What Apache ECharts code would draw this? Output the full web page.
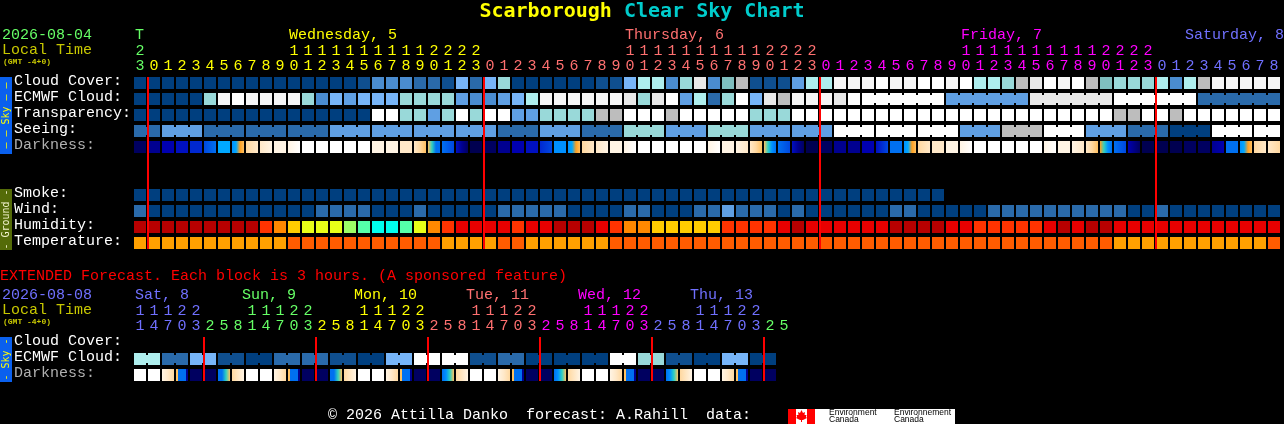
<!DOCTYPE html>
<html>
<head>
<meta charset="utf-8">
<style>html,body{margin:0;padding:0;background:#000}#c{width:1284px;height:424px}</style>
<script src="https://cdn.jsdelivr.net/npm/echarts@6/dist/echarts.min.js"></script>
</head>
<body>
<div id="c"></div>
<script>
// ---------- data ----------
const mainRows = ['Cloud Cover:','ECMWF Cloud:','Transparency:','Seeing:','Darkness:','','','Smoke:','Wind:','Humidity:','Temperature:'];
const extRows = ['Cloud Cover:','ECMWF Cloud:','Darkness:'];
const mainHours = [23,0,1,2,3,4,5,6,7,8,9,10,11,12,13,14,15,16,17,18,19,20,21,22,23,0,1,2,3,4,5,6,7,8,9,10,11,12,13,14,15,16,17,18,19,20,21,22,23,0,1,2,3,4,5,6,7,8,9,10,11,12,13,14,15,16,17,18,19,20,21,22,23,0,1,2,3,4,5,6,7,8];
const extHours = [11,14,17,20,23,2,5,8,11,14,17,20,23,2,5,8,11,14,17,20,23,2,5,8,11,14,17,20,23,2,5,8,11,14,17,20,23,2,5,8,11,14,17,20,23,2,5];
const mainDayStarts = [0,1,25,49,73];
const extDayStarts = [0,5,13,21,29,37,45];
const midnightCols = [1,25,49,73];
const extMidnightCols = [5,13,21,29,37,45];
const mainDayNames = [[0,'T'],[11,'Wednesday, 5'],[35,'Thursday, 6'],[59,'Friday, 7'],[75,'Saturday, 8']];
const extDayNames = [[0,'Sat, 8'],[8,'Sun, 9'],[16,'Mon, 10'],[24,'Tue, 11'],[32,'Wed, 12'],[40,'Thu, 13']];

const cloudCover = [0,0,0,0,0,0,0,0,0,0,0,0,0,0,0,0,1,3,3,3,2,2,1,5,2,5,7,0,0,0,0,0,0,1,1,5,8,8,3,7,10,3,6,9,1,1,1,4,8,8,12,12,12,11,12,12,11,11,12,11,8,8,7,9,10,11,12,11,9,6,7,7,7,8,3,8,9,12,12,12,12,12];
const ecmwfCloud = [0,0,0,0,0,7,12,11,12,12,12,12,7,3,5,4,5,5,5,7,7,7,7,4,3,3,4,5,8,12,12,12,12,12,12,10,7,10,11,4,8,2,7,11,5,10,9,12,12,12,10,11,11,11,11,11,11,11,4,4,4,4,4,4,10,10,10,10,10,10,11,11,11,11,11,11,2,2,2,2,2,2];
const ecmwfRuns = [1,1,1,1,1,1,1,1,1,1,1,1,1,1,1,1,1,1,1,1,1,1,1,1,1,1,1,1,1,1,1,1,1,1,1,1,1,1,1,1,1,1,1,1,1,1,1,1,1,1,1,1,6,6,6,6,6];
const transparency = [0,0,0,0,0,0,0,0,0,0,0,0,0,0,0,0,0,11,11,7,7,4,7,11,7,11,11,4,4,7,7,7,7,9,9,11,11,11,9,11,11,11,11,11,7,7,7,11,11,11,11,11,11,11,11,11,11,11,11,11,11,11,11,11,11,11,11,11,11,11,9,9,11,11,9,11,11,11,11,11,11,11];
const seeingBlocks = [2,4,2,2,2,4,4,4,4,2,4,2,7,4,7,4,4,11,11,11,4,9,11,4,2,0,11,11];
const seeingRuns = [2,3,3,3,3,3,3,3,3,3,3,3,3,3,3,3,3,3,3,3,3,3,3,3,3,3,3,2];
const darkness = [[1],[2],[3],[4],[5],[6,7],[9],[8,9,11,12],[13,14],[14,15],[15],[15,16],[16],[16],[16],[16],[16],[15],[15],[14],[14,13,12],[12,10,7,7],[7,6],[4,2,1],[0],[1],[2],[3],[4],[5,6],[8],[8,9,11,12],[13,14],[14,15],[15],[15,16],[16],[16],[16],[16],[16],[15,16],[15],[15,14],[14,13,12],[12,10,8,7],[7,6],[4,2,1],[0],[1],[2],[2],[3],[4,6],[7],[8,9,11,12],[13,14],[14],[15],[15,16],[16],[16],[16],[16],[16],[15,16],[15],[15,14],[14,13,12],[11,10,8,7],[7,6],[3,1],[0],[0],[0],[1],[1],[2,3],[7],[8,9,11,12],[13,14],[14,13]];
const smoke = [0,0,0,0,0,0,0,0,0,0,0,0,0,0,0,0,0,0,0,0,0,0,0,0,0,0,0,0,0,0,0,0,0,0,0,0,0,0,0,0,0,0,0,0,0,0,0,0,0,0,0,0,0,0,0,0,0,0];
const wind = [2,0,0,0,0,0,0,0,0,0,0,0,0,2,2,2,2,0,0,0,2,0,0,0,0,0,2,2,2,2,2,0,0,0,0,2,2,0,0,0,2,2,4,2,2,2,0,2,0,0,0,0,0,0,2,2,0,0,0,0,0,2,2,2,2,2,2,2,2,2,2,0,0,2,0,0,0,0,0,0,0,0];
const humidity = [0,0,0,0,0,0,0,0,0,2,3,4,5,5,5,6,7,8,8,7,5,3,2,1,1,1,1,2,1,1,0,0,0,1,2,3,3,4,4,4,4,4,2,2,2,2,1,0,1,1,1,1,1,1,0,0,0,0,1,1,2,2,2,2,2,1,0,1,0,0,1,1,1,1,1,1,1,1,1,1,1,1];
const temperature = [1,1,1,1,1,1,1,1,1,1,1,0,0,0,0,0,0,0,0,0,0,0,1,1,1,1,0,0,1,1,1,1,1,1,0,0,0,0,0,0,0,0,0,0,0,0,0,0,0,0,0,0,0,0,0,0,0,0,0,0,0,0,0,0,0,0,0,0,0,0,1,1,1,1,1,1,1,1,1,1,1,0];
const extEcmwf = [8,8,2,2,5,5,1,1,0,0,2,2,2,2,1,1,0,0,5,5,11,11,11,11,1,1,2,2,0,0,0,0,0,0,11,11,7,7,1,1,0,0,5,5,0,0];
const extRuns = [2,2,2,2,2,2,2,2,2,2,2,2,2,2,2,2,2,2,2,2,2,2,2];
const extDarkness = [[16],[16],[15,14,13],[12,7,7,2],[1],[1],[7,7,10,12],[13,15],[16],[16],[15,14,13],[12,7,7,2],[1],[1],[7,7,10,12],[13,15],[16],[16],[15,14,13],[12,7,7,2],[1],[1],[7,8,10,12],[13,15],[16],[16],[15,14,13],[12,7,7,2],[1],[1],[7,8,10,12],[13,15],[16],[16],[15,14,13],[12,7,7,2],[1],[1],[7,8,10,12],[13,15],[16],[16],[15,14,13],[12,7,7,2],[1],[1]];

// ---------- styles ----------
const mono = "'Liberation Mono', monospace";
const dejavu = "'DejaVu Sans Mono', monospace";
const skyPalette = ['#003f7f','#0f4f8f','#2a6aaa','#4a8cd0','#5f9fe3','#77b5f8','#7fbfbf','#99d9d9','#aeeeee','#bdbdbd','#e8e8e8','#ffffff','#f6f6f6'];
const darkPalette = ['#000050','#000060','#000090','#0000b0','#0010c0','#0028d0','#0048e0','#0070f0','#0090ff','#00a8ff','#30d0c0','#ffa020','#ffc060','#ffd8a0','#ffe8c8','#fff4e4','#ffffff'];
const humidPalette = ['#b80000','#e80000','#ff3300','#ff8800','#ffcc00','#e8ff18','#9cff66','#55ffaa','#00ffee'];
const tempPalette = ['#ff5c00','#ffa000'];
const mainDayColors = ['#66ff66','#ffff00','#ff7070','#ff00ff','#7070ff'];
const extDayColors = ['#7070ff','#66ff66','#ffff00','#ff7070','#ff00ff','#7070ff','#66ff66'];
const mainNameColors = ['#66ff66','#ffff00','#ff7070','#ff00ff','#7070ff'];
const extNameColors = ['#7070ff','#66ff66','#ffff00','#ff7070','#ff00ff','#7070ff'];

function dayIndex(starts, col){ let d=0; starts.forEach((s,i)=>{ if(col>=s) d=i; }); return d; }

function hourAxis(grid, hours, starts, colors, pick, margin){
  return {
    type:'category', gridIndex:grid, position:'top', boundaryGap:true,
    data: hours.map((h,i)=>({value:pick(h), textStyle:{color:colors[dayIndex(starts,i)]}})),
    axisLine:{show:false}, axisTick:{show:false}, splitLine:{show:false},
    axisLabel:{show:true, interval:0, margin:margin, fontFamily:mono, fontSize:15, lineHeight:15, align:'center', hideOverlap:false}
  };
}
const units = h => String(h%10);
const tens = h => h>=10 ? String(Math.floor(h/10)) : '';

function rowAxis(grid, rows){
  return {
    type:'category', gridIndex:grid, inverse:true,
    data: rows.map(r=>({value:r, textStyle:{color:r==='Darkness:'?'#b0b0b0':'#ffffff', align:'left', verticalAlign:'bottom', lineHeight:4}})),
    axisLine:{show:false}, axisTick:{show:false}, splitLine:{show:false},
    axisLabel:{show:true, interval:0, align:'left', verticalAlign:'bottom', margin:119, fontFamily:mono, fontSize:15, lineHeight:4}
  };
}

function joined(runs){
  const out=[]; runs.forEach(n=>{ for(let k=0;k<n;k++) out.push(k<n-1?1:0); }); return out;
}
function expand(blocks, runs){
  const out=[]; runs.forEach((n,b)=>{ for(let k=0;k<n;k++) out.push(blocks[b]); }); return out;
}
// stops for one darkness cell: neighbouring levels far apart change abruptly
function darkStops(lv){
  const stops=[], n=lv.length-1;
  lv.forEach((l,k)=>{
    stops.push({offset:k/n,color:darkPalette[l]});
    if(k<n && Math.abs(lv[k+1]-l)>3){
      const mid=(k+0.5)/n;
      stops.push({offset:mid,color:darkPalette[l]},{offset:mid,color:darkPalette[lv[k+1]]});
    }
  });
  return stops;
}

function cells(axis, row, values, palette, runs){
  const link = runs ? joined(runs) : [];
  return {
    type:'custom', xAxisIndex:axis, yAxisIndex:axis===0?0:1, z:2, silent:true,
    encode:{x:0,y:1},
    data: values.map((v,i)=>[i,row,v,link[i]||0]),
    renderItem(params, api){
      const c=api.coord([api.value(0),api.value(1)]), s=api.size([1,1]);
      const x=c[0]-s[0]/2+1, y=c[1]-s[1]/2+2, w=s[0]-2, h=s[1]-4, fill=palette[api.value(2)];
      const kids=[{type:'rect',shape:{x,y,width:w,height:h},style:{fill}}];
      if(api.value(3)) kids.push({type:'rect',shape:{x:x+w,y:y+2,width:2,height:h-4},style:{fill}});
      return {type:'group',children:kids};
    }
  };
}
function darkCells(axis, row, values){
  return {
    type:'custom', xAxisIndex:axis, yAxisIndex:axis===0?0:1, z:2, silent:true,
    encode:{x:0,y:1},
    data: values.map((v,i)=>[i,row]),
    renderItem(params, api){
      const idx=api.value(0), c=api.coord([idx,api.value(1)]), s=api.size([1,1]);
      const lv=values[idx];
      const fill = lv.length===1 ? darkPalette[lv[0]] : new echarts.graphic.LinearGradient(0,0,1,0,darkStops(lv));
      return {type:'rect',shape:{x:c[0]-s[0]/2+1,y:c[1]-s[1]/2+2,width:s[0]-2,height:s[1]-4},style:{fill}};
    }
  };
}
function redLines(axis, cols, lastRow){
  return {
    type:'custom', xAxisIndex:axis, yAxisIndex:axis===0?0:1, z:10, silent:true,
    encode:{x:0},
    data: cols.map(c=>[c,0]),
    renderItem(params, api){
      const top=api.coord([api.value(0),0]), bot=api.coord([api.value(0),lastRow]);
      return {type:'rect',z2:100,shape:{x:Math.round(top[0])-7,y:top[1]-6,width:2,height:bot[1]-top[1]+12},style:{fill:'#ff0000'}};
    }
  };
}
function dayNames(axis, names, colors, shift){
  return {
    type:'custom', xAxisIndex:axis, yAxisIndex:axis===0?0:1, z:3, silent:true,
    encode:{x:0},
    data: names.map(n=>[n[0],0]),
    renderItem(params, api){
      const i=params.dataIndex, c=api.coord([api.value(0),0]);
      const leftEdge=api.coord([0,0])[0]-5;
      return {type:'text',x:Math.max(leftEdge,c[0]-shift),y:c[1]-48,
        style:{text:names[i][1],fill:colors[i],font:'15px '+mono,textAlign:'left',textVerticalAlign:'middle'}};
    }
  };
}

function label(x,y,text,fill,font){
  return {type:'text',x,y,silent:true,style:{text,fill,font:font||('15px '+mono),textAlign:'left',textVerticalAlign:'middle'}};
}
function sideBar(y,h,fill,text,color){
  return [
    {type:'rect',silent:true,shape:{x:0,y,width:12,height:h},style:{fill}},
    {type:'text',silent:true,x:6,y:y+h/2,rotation:Math.PI/2,style:{text,fill:color,font:'10px '+dejavu,textAlign:'center',textVerticalAlign:'middle'}}
  ];
}

const graphics = [].concat(
  sideBar(77,77,'#0a60ee','— — Sky — —','#ffff00'),
  sideBar(189,61,'#546b08','- Ground -','#f4f4d0'),
  sideBar(337,45,'#0a60ee','- Sky -','#ffff00'),
  [
    label(2,35,'2026-08-04','#66ff66'),
    label(2,50,'Local Time','#c8c800'),
    label(3,62,'(GMT -4+0)','#c8c800','bold 8px '+mono),
    label(0,276,'EXTENDED Forecast. Each block is 3 hours. (A sponsored feature)','#ff0000'),
    label(2,295,'2026-08-08','#7070ff'),
    label(2,310,'Local Time','#c8c800'),
    label(3,322,'(GMT -4+0)','#c8c800','bold 8px '+mono),
    label(328,415,'© 2026 Attilla Danko  forecast: A.Rahill  data:','#ffffff'),
    {type:'rect',silent:true,shape:{x:788,y:409,width:167,height:15},style:{fill:'#ffffff'}},
    {type:'rect',silent:true,shape:{x:788,y:409,width:8,height:15},style:{fill:'#ff0000'}},
    {type:'rect',silent:true,shape:{x:807,y:409,width:8,height:15},style:{fill:'#ff0000'}},
    {type:'polygon',silent:true,shape:{points:[[801.5,410],[803,413],[805,412],[804.5,415],[806.5,415],[806,417],[807,418],[803,420],[802,420],[802,422],[801,422],[801,420],[800,420],[796,418],[797,417],[796.5,415],[798.5,415],[798,412],[800,413]]},style:{fill:'#ff0000'}},
    label(829,412.5,'Environment','#000000','8.5px "Liberation Sans"'),
    label(829,420,'Canada','#000000','8.5px "Liberation Sans"'),
    label(894,412.5,'Environnement','#000000','8.5px "Liberation Sans"'),
    label(894,420,'Canada','#000000','8.5px "Liberation Sans"')
  ]
);

const option = {
  animation:false,
  backgroundColor:'#000000',
  title:{
    text:'{a|Scarborough }{b|Clear Sky Chart}', left:'center', top:0, padding:0,
    textStyle:{rich:{
      a:{fontFamily:dejavu,fontWeight:'bold',fontSize:20,lineHeight:24,color:'#ffff00'},
      b:{fontFamily:dejavu,fontWeight:'bold',fontSize:20,lineHeight:24,color:'#00cccc'}
    }}
  },
  grid:[
    {left:133,top:75,width:14*mainHours.length,height:16*mainRows.length,containLabel:false,outerBoundsMode:'none'},
    {left:133,top:335,width:14*extHours.length,height:16*extRows.length,containLabel:false,outerBoundsMode:'none'}
  ],
  xAxis:[
    hourAxis(0,mainHours,mainDayStarts,mainDayColors,units,1),
    hourAxis(0,mainHours,mainDayStarts,mainDayColors,tens,16),
    hourAxis(1,extHours,extDayStarts,extDayColors,units,1),
    hourAxis(1,extHours,extDayStarts,extDayColors,tens,16)
  ],
  yAxis:[rowAxis(0,mainRows),rowAxis(1,extRows)],
  series:[
    cells(0,0,cloudCover,skyPalette),
    cells(0,1,ecmwfCloud,skyPalette,ecmwfRuns),
    cells(0,2,transparency,skyPalette),
    cells(0,3,expand(seeingBlocks,seeingRuns),skyPalette,seeingRuns),
    darkCells(0,4,darkness),
    cells(0,7,smoke,skyPalette),
    cells(0,8,wind,skyPalette),
    cells(0,9,humidity,humidPalette),
    cells(0,10,temperature,tempPalette),
    dayNames(0,mainDayNames,mainNameColors,5),
    // extended forecast (axis 2 belongs to the second grid)
    cells(2,1,extEcmwf,skyPalette,extRuns),
    darkCells(2,2,extDarkness),
    dayNames(2,extDayNames,extNameColors,10),
    redLines(0,midnightCols,10),
    redLines(2,extMidnightCols,2)
  ],
  graphic:graphics
};
const chart = echarts.init(document.getElementById('c'));
chart.setOption(option);
</script>
</body>
</html>
